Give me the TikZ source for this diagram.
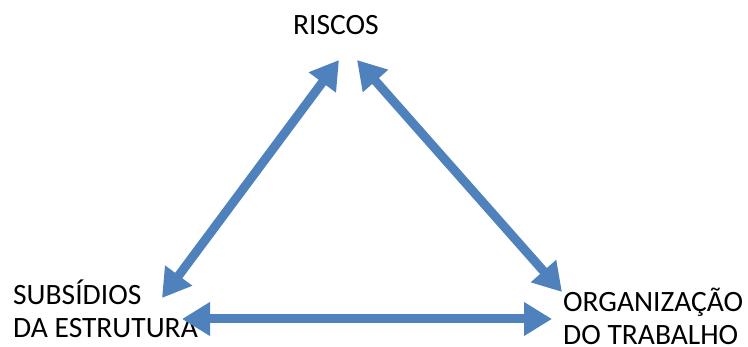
\documentclass[tikz,border=0pt]{standalone}
\usepackage{fontspec}
\setmainfont{Carlito}
\usetikzlibrary{arrows.meta}
\definecolor{azulseta}{HTML}{4F81BD}

\begin{document}
\begin{tikzpicture}[x=1pt, y=-1pt,
    rotulo/.style={font=\fontsize{29.5}{33}\selectfont, inner sep=0pt, align=left, anchor=base west},
    seta/.style={draw=azulseta, line width=9pt,
        {Triangle[length=28pt,width=32pt]}-{Triangle[length=28pt,width=32pt]}}]
    \useasboundingbox (0,0) rectangle (748,347);

    \node[rotulo] (riscos) at (293,35) {RISCOS};
    \node[rotulo] (subsidios) at (13,338) {SUBSÍDIOS\\DA ESTRUTURA};
    \node[rotulo] (organizacao) at (563,345) {ORGANIZAÇÃO\\DO TRABALHO};

    \coordinate (riscos-e) at (339,60);
    \coordinate (riscos-d) at (357,60);
    \coordinate (subsidios-c) at (162,298);
    \coordinate (subsidios-d) at (182,319);
    \coordinate (organizacao-c) at (562,292);
    \coordinate (organizacao-e) at (552,319);

    \draw[seta] (riscos-e) -- (subsidios-c);
    \draw[seta] (riscos-d) -- (organizacao-c);
    \draw[seta] (subsidios-d) -- (organizacao-e);
\end{tikzpicture}
\end{document}
